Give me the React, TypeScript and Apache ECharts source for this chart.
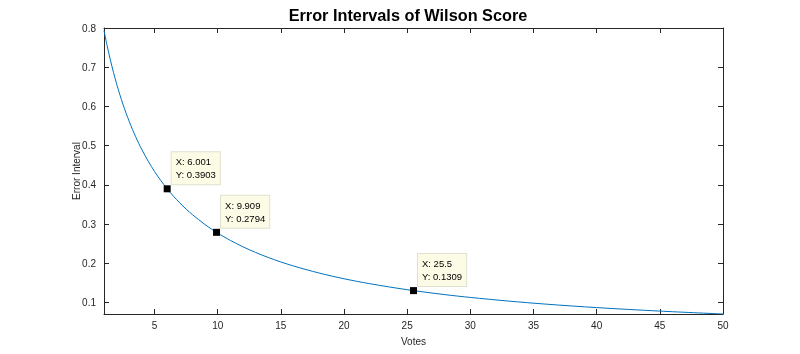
import React, { useEffect, useRef } from "react";
import * as echarts from "echarts";

const votes = [1, 1.25, 1.5, 1.75, 2, 2.25, 2.5, 2.75, 3, 3.25, 3.5, 3.75, 4, 4.5, 5, 5.5, 6, 6.5, 7, 7.5, 8, 9, 10, 11, 12, 13, 14, 15, 16, 18, 20, 22, 25, 28, 30, 33, 36, 40, 45, 50];
const errorInterval = [0.7935, 0.7545, 0.7192, 0.6870, 0.6576, 0.6306, 0.6058, 0.5828, 0.5615, 0.5417, 0.5233, 0.5060, 0.4899, 0.4605, 0.4345, 0.4112, 0.3903, 0.3715, 0.3543, 0.3387, 0.3244, 0.2991, 0.2775, 0.2589, 0.2425, 0.2281, 0.2153, 0.2039, 0.1936, 0.1759, 0.1611, 0.1487, 0.1332, 0.1206, 0.1135, 0.1043, 0.0964, 0.0876, 0.0787, 0.0713];
const tipX = [6.001, 9.909, 25.5];
const tipY = [0.3903, 0.2794, 0.1309];
const xTicks = [5, 10, 15, 20, 25, 30, 35, 40, 45, 50];
const yTicks = [0.1, 0.2, 0.3, 0.4, 0.5, 0.6, 0.7, 0.8];

export default function App() {
  const ref = useRef<HTMLDivElement>(null);
  useEffect(() => {
    const chart = echarts.init(ref.current!, null, { renderer: "svg" });
    const axisColor = "#262626";
    const font = "Liberation Sans, Arial, Helvetica, sans-serif";
    const common = {
      axisLine: { show: true, onZero: false, lineStyle: { color: axisColor, width: 1 } },
      splitLine: { show: false },
    };
    chart.setOption({
      animation: false,
      title: {
        text: "Error Intervals of Wilson Score",
        left: 403,
        textAlign: "center",
        top: 2,
        textStyle: { fontFamily: font, fontSize: 16.3, fontWeight: "bold", color: "#000" },
      },
      grid: { left: 104, top: 28, right: 77, bottom: 40 },
      xAxis: [
        {
          type: "value",
          min: 1,
          max: 50,
          position: "bottom",
          ...common,
          name: "Votes",
          nameLocation: "middle",
          nameGap: 22,
          nameMoveOverlap: false,
          nameTextStyle: { fontFamily: font, fontSize: 10, color: axisColor },
          axisTick: { inside: true, length: 5, customValues: xTicks, lineStyle: { color: axisColor } },
          axisLabel: { customValues: xTicks, fontFamily: font, fontSize: 10, color: axisColor, margin: 6 },
        },
        {
          type: "value",
          min: 1,
          max: 50,
          position: "top",
          ...common,
          axisTick: { inside: true, length: 5, customValues: xTicks, lineStyle: { color: axisColor } },
          axisLabel: { show: false },
        },
      ],
      yAxis: [
        {
          type: "value",
          min: 0.0713,
          max: 0.8,
          position: "left",
          ...common,
          name: "Error Interval",
          nameLocation: "middle",
          nameGap: 23,
          nameMoveOverlap: false,
          nameTextStyle: { fontFamily: font, fontSize: 10, color: axisColor },
          axisTick: { inside: true, length: 5, customValues: yTicks, lineStyle: { color: axisColor } },
          axisLabel: {
            customValues: yTicks,
            fontFamily: font,
            fontSize: 10,
            color: axisColor,
            margin: 8,
            formatter: (v: number) => String(Math.round(v * 10) / 10),
          },
        },
        {
          type: "value",
          min: 0.0713,
          max: 0.8,
          position: "right",
          ...common,
          axisTick: { inside: true, length: 5, customValues: yTicks, lineStyle: { color: axisColor } },
          axisLabel: { show: false },
        },
      ],
      series: [
        {
          type: "line",
          data: votes.map((v, i) => [v, errorInterval[i]]),
          smooth: 0.3,
          showSymbol: false,
          lineStyle: { color: "#0072BD", width: 1 },
          z: 2,
        },
        {
          type: "scatter",
          data: tipX.map((v, i) => [v, tipY[i]]),
          symbol: "rect",
          symbolSize: 7,
          itemStyle: { color: "#000000", opacity: 1 },
          z: 5,
          label: {
            show: true,
            position: [8, -1],
            align: "left",
            verticalAlign: "bottom",
            formatter: (p: any) => `X: ${tipX[p.dataIndex]}\nY: ${tipY[p.dataIndex]}`,
            fontFamily: font,
            fontSize: 9.5,
            lineHeight: 13,
            color: "#000",
            backgroundColor: "#fbfbe6",
            borderColor: "#e0e0d0",
            borderWidth: 1,
            padding: [3, 4, 3, 4],
          },
          emphasis: { disabled: true },
        },
      ],
    });
    return () => chart.dispose();
  }, []);
  return <div ref={ref} style={{ position: "fixed", left: 0, top: 0, width: 800, height: 354 }} />;
}
